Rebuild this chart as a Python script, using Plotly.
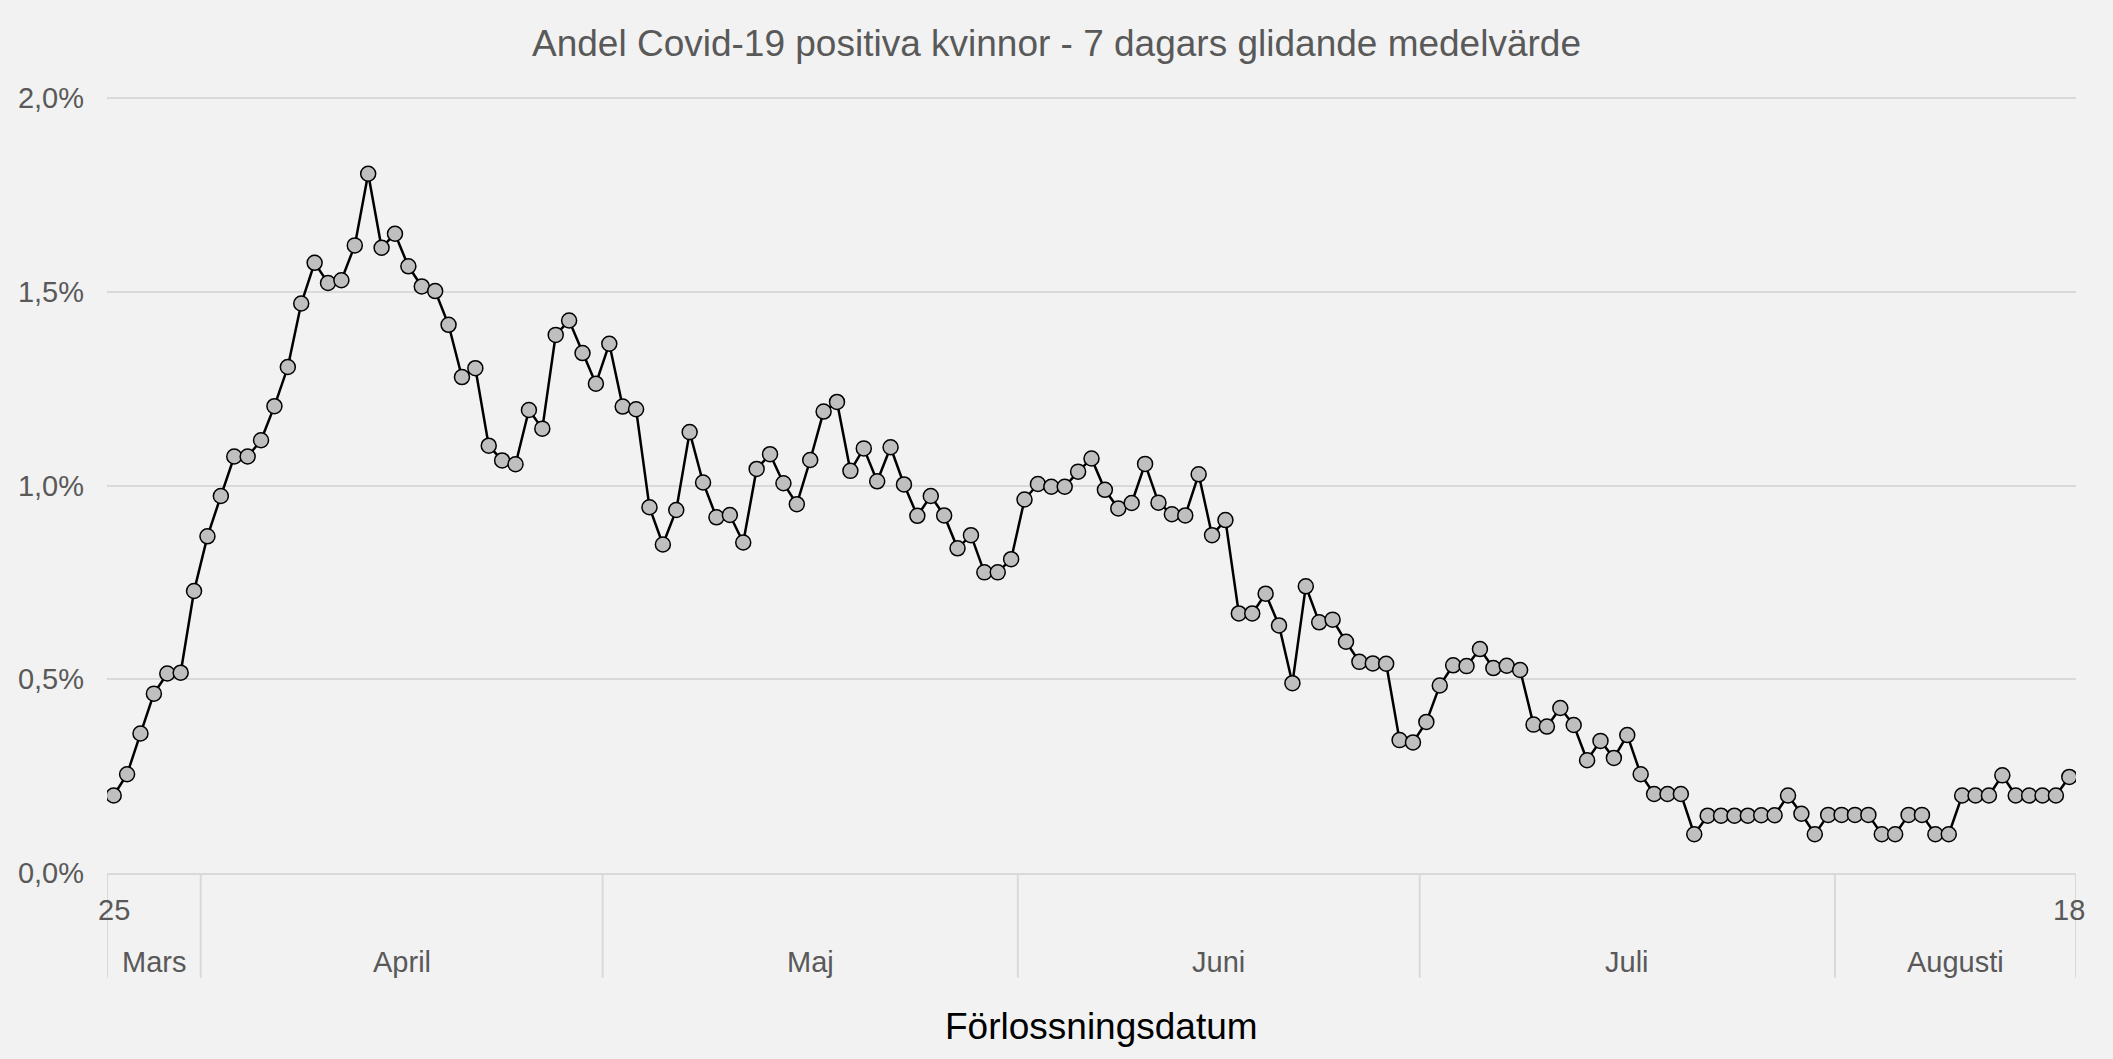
import pandas as pd
import plotly.graph_objects as go

# ---- data ----
start_date = "2020-03-25"
end_date = "2020-08-18"
month_labels = {3: "Mars", 4: "April", 5: "Maj", 6: "Juni", 7: "Juli", 8: "Augusti"}

# share of Covid-19 positive women, 7-day moving average (percent)
values_pct = [
    0.20, 0.255, 0.36, 0.463, 0.515, 0.517, 0.728,                      # Mars 25-31
    0.869, 0.973, 1.075, 1.075, 1.117, 1.205, 1.306, 1.47, 1.575, 1.523,  # April 1-10
    1.53, 1.62, 1.805, 1.614, 1.65, 1.566, 1.514, 1.502, 1.415, 1.28,     # April 11-20
    1.303, 1.103, 1.065, 1.055, 1.195, 1.147, 1.389, 1.426, 1.342, 1.263, # April 21-30
    1.366, 1.204, 1.197, 0.944, 0.848, 0.937, 1.138, 1.008, 0.918, 0.924, # Maj 1-10
    0.853, 1.043, 1.081, 1.006, 0.952, 1.066, 1.191, 1.216, 1.038, 1.096, # Maj 11-20
    1.011, 1.099, 1.003, 0.922, 0.973, 0.923, 0.838, 0.872, 0.776, 0.776, # Maj 21-30
    0.81,                                                                 # Maj 31
    0.964, 1.004, 0.997, 0.997, 1.036, 1.07, 0.989, 0.941, 0.955, 1.056,  # Juni 1-10
    0.956, 0.926, 0.923, 1.029, 0.872, 0.911, 0.670, 0.670, 0.721, 0.639, # Juni 11-20
    0.49, 0.74, 0.647, 0.654, 0.597, 0.545, 0.541, 0.54, 0.343, 0.337,    # Juni 21-30
    0.39, 0.484, 0.536, 0.534, 0.578, 0.529, 0.535, 0.524, 0.383, 0.378,  # Juli 1-10
    0.426, 0.382, 0.291, 0.341, 0.297, 0.356, 0.255, 0.204, 0.204, 0.204, # Juli 11-20
    0.10, 0.148, 0.148, 0.148, 0.148, 0.149, 0.149, 0.20, 0.153, 0.10,    # Juli 21-30
    0.15,                                                                 # Juli 31
    0.15, 0.15, 0.15, 0.10, 0.10, 0.15, 0.15, 0.10, 0.10, 0.20,           # Augusti 1-10
    0.20, 0.20, 0.252, 0.20, 0.20, 0.20, 0.20, 0.248,                     # Augusti 11-18
]

y_ticks = [0.0, 0.5, 1.0, 1.5, 2.0]
y_tick_labels = ["0,0%", "0,5%", "1,0%", "1,5%", "2,0%"]

title_text = "Andel Covid-19 positiva kvinnor - 7 dagars glidande medelvärde"
x_title = "Förlossningsdatum"

# ---- derived ----
dates = pd.date_range(start_date, end_date, freq="D")
assert len(dates) == len(values_pct)
cats = [d.strftime("%Y-%m-%d") for d in dates]
n = len(cats)

FONT = "Liberation Sans, Arial, sans-serif"
TXT = "#595959"
GRID = "#d9d9d9"
BG = "#f2f2f2"

fig = go.Figure()
fig.add_trace(go.Scatter(
    x=cats, y=values_pct, mode="lines+markers",
    line=dict(color="#000000", width=2.5),
    marker=dict(symbol="circle", size=15, color="#bfbfbf",
                line=dict(color="#000000", width=1.5)),
    hovertemplate="%{x}<br>%{y:.2f}%<extra></extra>",
    showlegend=False,
))

shapes = []
annotations = []

# month groups (multi-level category axis)
months = [d.month for d in dates]
groups = []
s = 0
for i in range(1, n + 1):
    if i == n or months[i] != months[s]:
        groups.append((s, i - 1, months[s]))
        s = i
bounds = [-0.5] + [g[1] + 0.5 for g in groups]
for b in bounds:
    shapes.append(dict(type="line", xref="x", yref="paper", x0=b, x1=b,
                       y0=0, y1=-0.135, line=dict(color=GRID, width=2), layer="below"))
for g0, g1, m in groups:
    annotations.append(dict(x=(g0 + g1) / 2, y=0, xref="x", yref="paper",
                            yshift=-89, yanchor="middle", showarrow=False,
                            text=month_labels[m], font=dict(family=FONT, size=29, color=TXT)))
# first and last day labels
for idx in (0, n - 1):
    annotations.append(dict(x=idx, y=0, xref="x", yref="paper",
                            yshift=-37, yanchor="middle", showarrow=False,
                            text=str(dates[idx].day), font=dict(family=FONT, size=29, color=TXT)))
# x axis title
annotations.append(dict(x=0.505, y=0, xref="paper", yref="paper", yshift=-153,
                        yanchor="middle", showarrow=False, text=x_title,
                        font=dict(family=FONT, size=37, color="#000000")))

fig.update_layout(
    width=2113, height=1059,
    paper_bgcolor=BG, plot_bgcolor=BG,
    margin=dict(l=107, r=37, t=97, b=186),
    separators=", ",
    title=dict(text=title_text, x=0.5, xanchor="center", y=1 - 43 / 1059, yanchor="middle",
               font=dict(family=FONT, size=37, color=TXT)),
    xaxis=dict(type="category", range=[-0.5, n - 0.5], showticklabels=False,
               showgrid=False, zeroline=False, showline=True, linecolor=GRID, linewidth=2,
               ticks=""),
    yaxis=dict(range=[0, 2.003], tickvals=y_ticks, ticktext=y_tick_labels,
               showgrid=True, gridcolor=GRID, gridwidth=2, zeroline=False, showline=False,
               tickfont=dict(family=FONT, size=29, color=TXT), ticks="", ticklabelstandoff=22),
    shapes=shapes,
    annotations=annotations,
)

fig.write_html("out.html", config={"displayModeBar": False},
               post_script="document.body.style.margin='0';")
